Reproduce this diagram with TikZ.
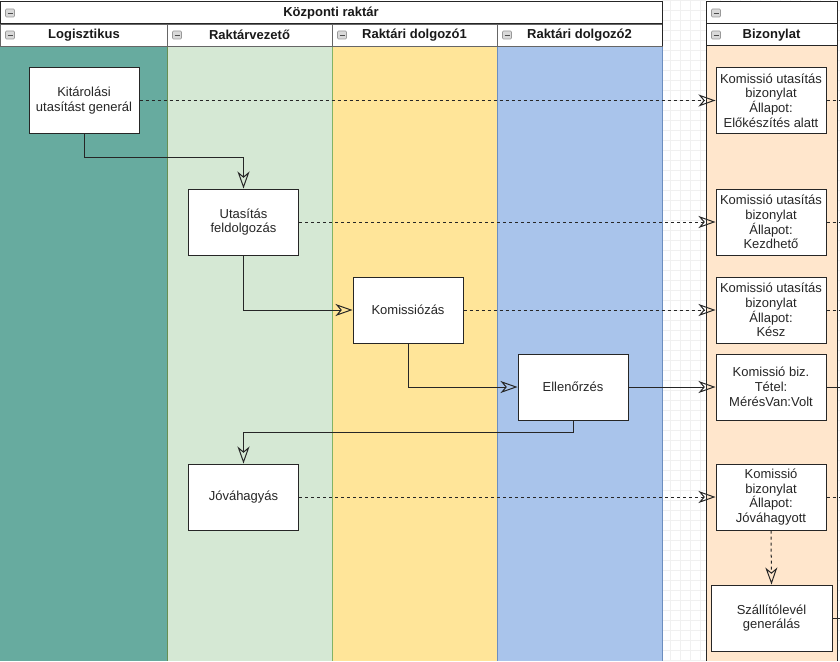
\documentclass[tikz,border=0pt]{standalone}
\usepackage{fontspec}
\setmainfont{Liberation Sans}
\usetikzlibrary{arrows.meta}
\definecolor{cteal}{HTML}{67AB9F}
\definecolor{cgreen}{HTML}{D5E8D4}
\definecolor{cgreenb}{HTML}{82B366}
\definecolor{cyellow}{HTML}{FFE599}
\definecolor{cblue}{HTML}{A9C4EB}
\definecolor{cblueb}{HTML}{6C8EBF}
\definecolor{cpeach}{HTML}{FFE6CC}
\definecolor{cgrid}{HTML}{F0F0F0}
\tikzset{
  txt/.style={font=\fontsize{13}{14.8}\selectfont, align=center, text=black!85},
  hdr/.style={font=\fontsize{13}{15}\selectfont\bfseries, text=black!90},
  box/.style={draw=black!85, fill=white, line width=1pt, txt, inner sep=0pt,
              minimum width=110pt, minimum height=66pt},
  flow/.style={draw=black!85, line width=1pt,
              -{Stealth[open, length=17pt, width=12pt, inset=5pt, line width=1pt]}},
  dflow/.style={flow, dash pattern=on 3pt off 3pt},
  stub/.style={draw=black!85, line width=0.8pt},
  pics/collapseicon/.style={code={
    \draw[fill=gray!30, draw=gray!80, line width=0.6pt, rounded corners=1pt] (-4.5,-4) rectangle (4.5,4);
    \draw[black!70, line width=0.8pt] (-2.5,0) -- (2.5,0);
  }}
}
\begin{document}
\begin{tikzpicture}[x=1pt,y=-1pt]
\useasboundingbox (0,0) rectangle (840,661);
\fill[white] (0,0) rectangle (840,661);
% grid background
\foreach \gx in {670,680,...,840} \draw[cgrid, line width=0.5pt] (\gx,0) -- (\gx,661);
\foreach \gy in {0,10,...,660} \draw[cgrid, line width=0.5pt] (662,\gy) -- (706,\gy);
\foreach \gy in {0,10,...,660} \draw[cgrid, line width=0.5pt] (837,\gy) -- (840,\gy);
% lanes
\fill[cteal] (0,46) rectangle (167,661);
\fill[cgreen] (167,46) rectangle (332,661);
\fill[cyellow] (332,46) rectangle (497,661);
\fill[cblue] (497,46) rectangle (662,661);
\draw[cgreenb!80!black, line width=0.8pt] (167,46) -- (167,661);
\draw[cgreenb, line width=0.8pt] (332,46) -- (332,661);
\draw[cblueb, line width=0.8pt] (497,46) -- (497,661);
\draw[cblueb, line width=1pt] (662,46) -- (662,661);
% pool header
\fill[white] (0,2) rectangle (662,46);
\draw[black!85, line width=1pt] (0.5,2) rectangle (662,24);
\draw[black!60, line width=0.8pt] (0.5,24) rectangle (167,46);
\draw[black!60, line width=0.8pt] (167,24) rectangle (332,46);
\draw[black!60, line width=0.8pt] (332,24) rectangle (497,46);
\draw[black!60, line width=0.8pt] (497,24) rectangle (662,46);
\draw[black!85, line width=1pt] (662,2) -- (662,46);
\node[hdr] (pooltitle) at (331,13) {Központi raktár};
\node[hdr] (h1) at (84,35) {Logisztikus};
\node[hdr] (h2) at (249.5,35) {Raktárvezető};
\node[hdr] (h3) at (414.5,35) {Raktári dolgozó1};
\node[hdr] (h4) at (579.5,35) {Raktári dolgozó2};
\pic at (10,13) {collapseicon};
\pic at (10,35) {collapseicon};
\pic at (177,35) {collapseicon};
\pic at (342,35) {collapseicon};
\pic at (507,35) {collapseicon};
% Bizonylat pool
\fill[cpeach] (706,46) rectangle (837,661);
\fill[white] (706,2) rectangle (837,46);
\draw[black!85, line width=1pt] (706,2) rectangle (837,24);
\draw[black!85, line width=1pt] (706,24) rectangle (837,46);
\draw[black!85, line width=1pt] (706,46) -- (706,661);
\draw[black!85, line width=1pt] (837,46) -- (837,661);
\node[hdr] (h5) at (771.5,35) {Bizonylat};
\pic at (716,13) {collapseicon};
\pic at (716,35) {collapseicon};
% process nodes
\node[box] (kit) at (84,100.5) {Kitárolási\\utasítást generál};
\node[box] (utas) at (243.5,222) {Utasítás\\feldolgozás};
\node[box] (kom) at (408,310) {Komissiózás};
\node[box] (ell) at (573,387) {Ellenőrzés};
\node[box] (jov) at (243.5,497) {Jóváhagyás};
% document nodes
\node[box] (b1) at (771,100.5) {Komissió utasítás\\bizonylat\\Állapot:\\Előkészítés alatt};
\node[box] (b2) at (771,222) {Komissió utasítás\\bizonylat\\Állapot:\\Kezdhető};
\node[box] (b3) at (771,310) {Komissió utasítás\\bizonylat\\Állapot:\\Kész};
\node[box] (b4) at (771,387) {Komissió biz.\\Tétel:\\MérésVan:Volt};
\node[box] (b5) at (771,497) {Komissió\\bizonylat\\Állapot:\\Jóváhagyott};
\node[box, minimum width=121pt] (szall) at (771.5,618) {Szállítólevél\\generálás};
% flow connectors
\draw[flow] (kit.south) -- ++(0,23) -| (utas.north);
\draw[flow] (utas.south) |- (kom.west);
\draw[flow] (kom.south) |- (ell.west);
\draw[flow] (ell.south) -- ++(0,12) -| (jov.north);
% document connectors
\draw[dflow] (kit.east) -- (b1.west);
\draw[dflow] (utas.east) -- (b2.west);
\draw[dflow] (kom.east) -- (b3.west);
\draw[flow] (ell.east) -- (b4.west);
\draw[dflow] (jov.east) -- (b5.west);
\draw[dflow] (b5.south) -- (szall.north);
% outgoing stubs
\coordinate (e1) at (840,100.5);
\coordinate (e2) at (840,222);
\coordinate (e3) at (840,310);
\coordinate (e4) at (840,387);
\coordinate (e5) at (840,497);
\coordinate (e6) at (840,618);
\draw[stub, dash pattern=on 3pt off 3pt] (b1.east) -- (e1);
\draw[stub, dash pattern=on 3pt off 3pt] (b2.east) -- (e2);
\draw[stub, dash pattern=on 3pt off 3pt] (b3.east) -- (e3);
\draw[stub] (b4.east) -- (e4);
\draw[stub, dash pattern=on 3pt off 3pt] (b5.east) -- (e5);
\draw[stub] (szall.east) -- (e6);
\end{tikzpicture}
\end{document}
